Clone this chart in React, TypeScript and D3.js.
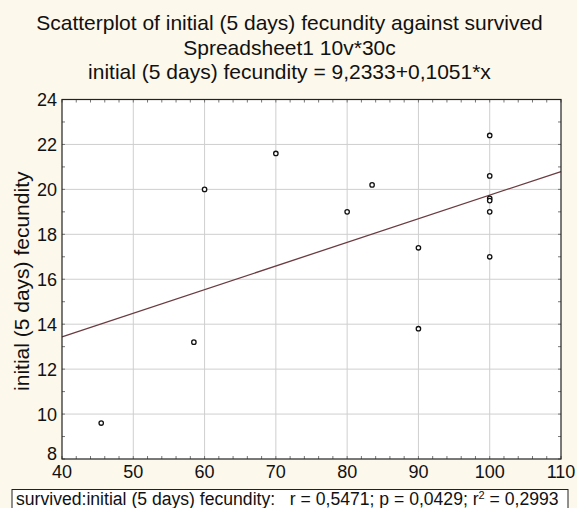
import React from "react";
import * as d3 from "d3";

const survived = [45.5, 58.5, 60, 70, 80, 83.5, 90, 90, 100, 100, 100, 100, 100, 100];
const fecundity = [9.6, 13.2, 20.0, 21.6, 19.0, 20.2, 17.4, 13.8, 22.4, 20.6, 19.6, 19.5, 19.0, 17.0];
const xTicks = [40, 50, 60, 70, 80, 90, 100, 110];
const yTicks = [8, 10, 12, 14, 16, 18, 20, 22, 24];
const intercept = 9.2333;
const slope = 0.1051;
const titles = [
  "Scatterplot of initial (5 days) fecundity against survived",
  "Spreadsheet1 10v*30c",
  "initial (5 days) fecundity = 9,2333+0,1051*x",
];
const yLabel = "initial (5 days) fecundity";

export default function App() {
  const W = 577, H = 508;
  const L = 62, R = 561, T = 99.5, B = 459;
  const x = d3.scaleLinear().domain([40, 110]).range([L, R]);
  const y = d3.scaleLinear().domain([8, 24]).range([B, T]);
  const font = "'Liberation Sans', Arial, sans-serif";
  const xMinor = d3.range(40, 110.01, 2);
  const yMinor = d3.range(8, 24.01, 1);
  const line = d3.line<number>().x((d) => x(d)).y((d) => y(intercept + slope * d));
  return (
    <svg width={W} height={H} style={{ position: "absolute", left: 0, top: 0 }} fontFamily={font}>
      <rect x={0} y={0} width={W} height={H} fill="#fcf8ec" />
      {titles.map((t, i) => (
        <text key={i} x={W / 2 + 1} y={30 + i * 24.5} textAnchor="middle" fontSize={21} fill="#111">
          {t}
        </text>
      ))}
      <rect x={L} y={T} width={R - L} height={B - T} fill="#ffffff" />
      {xTicks.slice(1, -1).map((t) => (
        <line key={"gx" + t} x1={x(t)} x2={x(t)} y1={T} y2={B} stroke="#cfcfcf" strokeWidth={1} />
      ))}
      {yTicks.slice(1, -1).map((t) => (
        <line key={"gy" + t} x1={L} x2={R} y1={y(t)} y2={y(t)} stroke="#cfcfcf" strokeWidth={1} />
      ))}
      {xMinor.map((t) => (
        <g key={"mx" + t}>
          <line x1={x(t)} x2={x(t)} y1={B} y2={B - 3} stroke="#777" />
          <line x1={x(t)} x2={x(t)} y1={T} y2={T + 3} stroke="#777" />
        </g>
      ))}
      {yMinor.map((t) => (
        <g key={"my" + t}>
          <line x1={L} x2={L + 3} y1={y(t)} y2={y(t)} stroke="#777" />
          <line x1={R} x2={R - 3} y1={y(t)} y2={y(t)} stroke="#777" />
        </g>
      ))}
      <path d={line([40, 110]) || ""} stroke="#6b3b40" strokeWidth={1.3} fill="none" />
      {survived.map((s, i) => (
        <circle key={i} cx={x(s)} cy={y(fecundity[i])} r={2.2} fill="#fff" stroke="#111" strokeWidth={1.3} />
      ))}
      <rect x={L} y={T} width={R - L} height={B - T} fill="none" stroke="#222" strokeWidth={1.2} />
      {xTicks.map((t) => (
        <text key={"tx" + t} x={x(t)} y={478} textAnchor="middle" fontSize={18} fill="#111">
          {t}
        </text>
      ))}
      {yTicks.map((t) => (
        <text key={"ty" + t} x={57} y={t === 8 ? y(t) + 1 : y(t) + 6.5} textAnchor="end" fontSize={18} fill="#111">
          {t}
        </text>
      ))}
      <text transform={`translate(29,${(T + B) / 2 + 2}) rotate(-90)`} textAnchor="middle" fontSize={21} fill="#111">
        {yLabel}
      </text>
      <rect x={12} y={489.5} width={556} height={20} fill="#fff" stroke="#222" strokeWidth={1} />
      <text x={16} y={505} fontSize={17.6} fill="#111" xmlSpace="preserve">
        {"survived:initial (5 days) fecundity:   r = 0,5471; p = 0,0429; r"}
        <tspan dy={-6} fontSize={11}>2</tspan>
        <tspan dy={6}>{" = 0,2993"}</tspan>
      </text>
    </svg>
  );
}
